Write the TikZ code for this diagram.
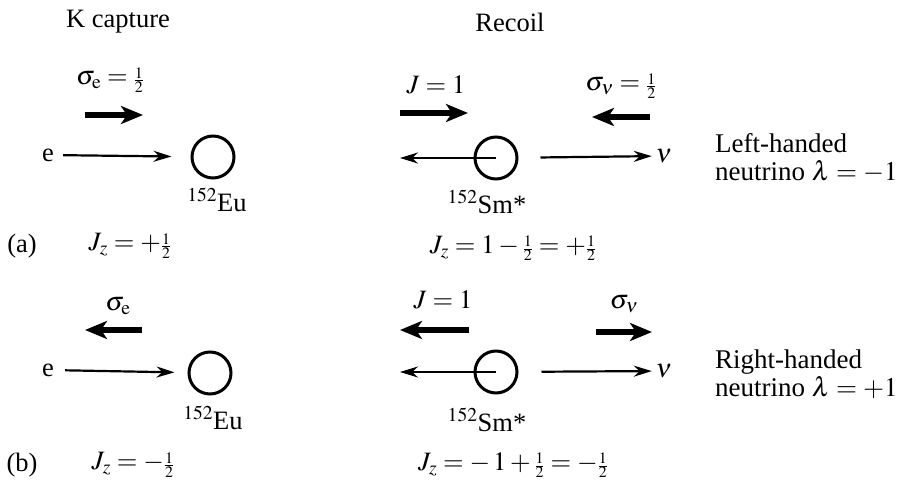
\documentclass[tikz,border=0pt]{standalone}
\usepackage{mathptmx}
\usepackage{fontspec}
\setmainfont{Liberation Serif}
\usetikzlibrary{arrows.meta}
\newcommand\hf{{\scriptscriptstyle\frac{1}{2}}}
\begin{document}
\begin{tikzpicture}[x=1pt,y=-1pt,
  lbl/.style={font=\fontsize{26.5}{30}\selectfont, inner sep=1pt},
  side/.style={font=\fontsize{27}{28}\selectfont, inner sep=0pt, align=left, anchor=west},
  nuc/.style={draw, circle, line width=3pt, minimum size=42pt, inner sep=0pt},
  thinarr/.style={line width=2.2pt, -{Stealth[length=18pt,width=11pt]}},
  thickarr/.style={line width=5.5pt, -{Stealth[length=22pt,width=18pt,inset=6pt]}}]
\useasboundingbox (0,0) rectangle (898,489);
% headers
\node[lbl] (hk) at (118,22) {K capture};
\node[lbl] (hr) at (510,22) {Recoil};
% ---------- (a) ----------
\node[lbl] (se1) at (110,80) {$\sigma_{\mathrm e}=\hf$};
\coordinate (se1a) at (85,115); \coordinate (se1b) at (143,115);
\draw[thickarr] (se1a) -- (se1b);
\node[lbl] (e1) at (48,155) {e};
\node[nuc] (eu1) at (213,157) {};
\draw[thinarr, shorten <=8pt, shorten >=19pt] (e1) -- (eu1);
\node[lbl] (eul1) at (217,200) {$^{152}$Eu};
\node[lbl] (a) at (22,246) {(a)};
\node[lbl] (jz1) at (130,246) {$J_z=+\hf$};
\node[lbl] (j1) at (436,85) {$J=1$};
\coordinate (j1a) at (400,113); \coordinate (j1b) at (468,113);
\draw[thickarr] (j1a) -- (j1b);
\node[lbl] (sn1) at (621,86) {$\sigma_\nu=\hf$};
\coordinate (sn1a) at (650,117); \coordinate (sn1b) at (592,117);
\draw[thickarr] (sn1a) -- (sn1b);
\node[nuc] (sm1) at (496,158) {};
\coordinate (l1) at (400,158);
\draw[thinarr] (sm1.center) -- (l1);
\node[lbl] (nu1) at (664,156) {$\nu$};
\draw[thinarr, shorten <=22pt, shorten >=3pt] (sm1) -- (nu1);
\node[lbl] (sml1) at (487,202) {$^{152}$Sm*};
\node[lbl] (jz2) at (513,248) {$J_z=1-\hf=+\hf$};
\node[side] (lh) at (715,158) {Left-handed\\neutrino $\lambda=-1$};
% ---------- (b) ----------
\node[lbl] (se2) at (118,306) {$\sigma_{\mathrm e}$};
\coordinate (se2a) at (142,330); \coordinate (se2b) at (85,330);
\draw[thickarr] (se2a) -- (se2b);
\node[lbl] (e2) at (48,370) {e};
\node[nuc] (eu2) at (210,373) {};
\draw[thinarr, shorten <=10pt, shorten >=13pt] (e2) -- (eu2);
\node[lbl] (eul2) at (213,418) {$^{152}$Eu};
\node[lbl] (b) at (22,465) {(b)};
\node[lbl] (jz3) at (133,465) {$J_z=-\hf$};
\node[lbl] (j2) at (443,300) {$J=1$};
\coordinate (j2a) at (469,330); \coordinate (j2b) at (400,330);
\draw[thickarr] (j2a) -- (j2b);
\node[lbl] (sn2) at (624,304) {$\sigma_\nu$};
\coordinate (sn2a) at (596,332); \coordinate (sn2b) at (652,332);
\draw[thickarr] (sn2a) -- (sn2b);
\node[nuc] (sm2) at (496,372) {};
\coordinate (l2) at (400,372);
\draw[thinarr] (sm2.center) -- (l2);
\node[lbl] (nu2) at (664,371) {$\nu$};
\draw[thinarr, shorten <=23pt, shorten >=3pt] (sm2) -- (nu2);
\node[lbl] (sml2) at (487,420) {$^{152}$Sm*};
\node[lbl] (jz4) at (513,465) {$J_z=-\,1+\hf=-\hf$};
\node[side] (rh) at (715,374) {Right-handed\\neutrino $\lambda=+1$};
\end{tikzpicture}
\end{document}
